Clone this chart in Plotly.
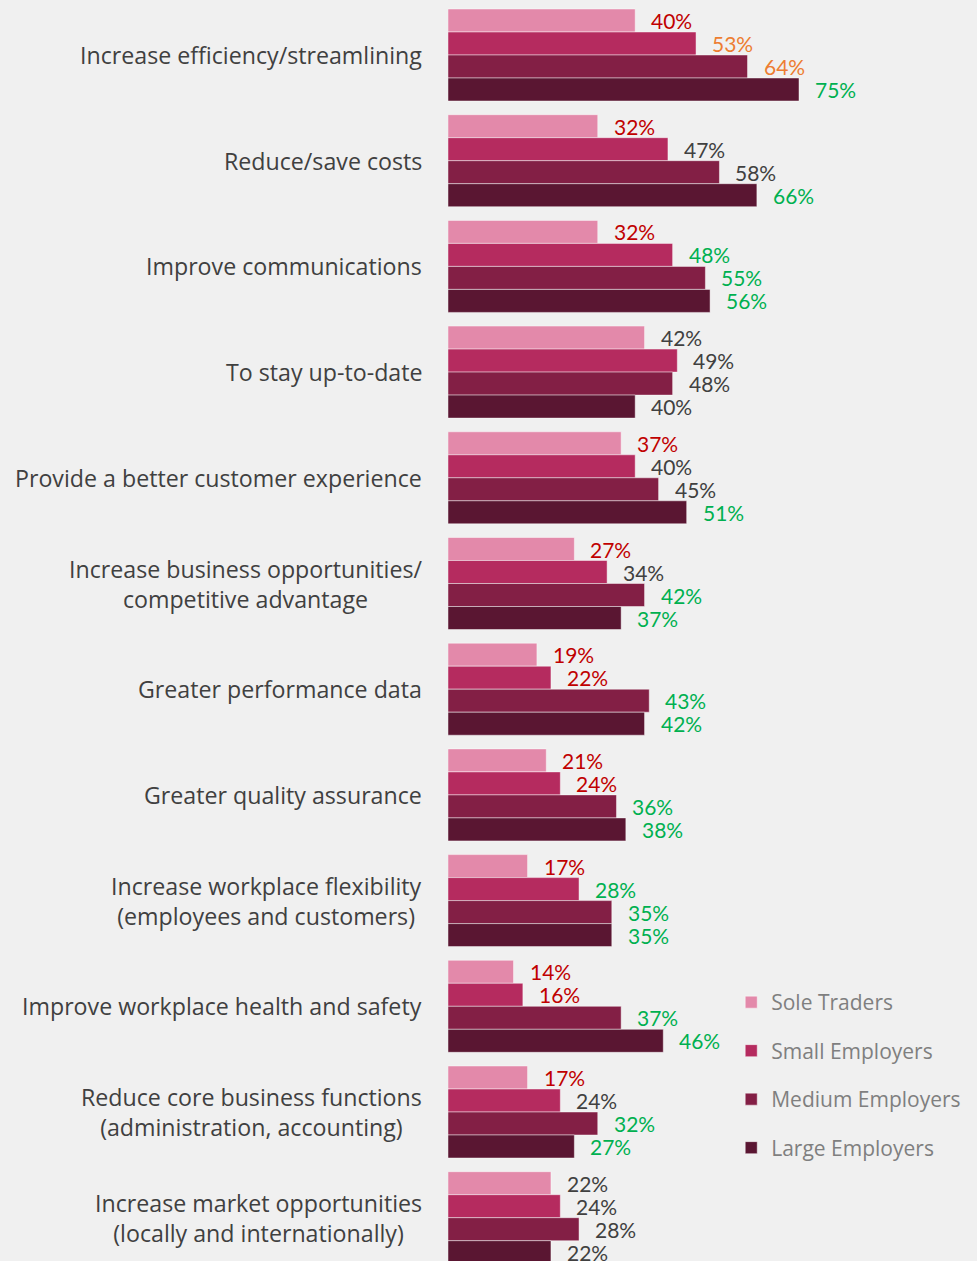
import plotly.graph_objects as go

categories = [
    "Increase efficiency/streamlining",
    "Reduce/save costs",
    "Improve communications",
    "To stay up-to-date",
    "Provide a better customer experience",
    "Increase business opportunities/<br>competitive advantage",
    "Greater performance data",
    "Greater quality assurance",
    "Increase workplace flexibility<br>(employees and customers)",
    "Improve workplace health and safety",
    "Reduce core business functions<br>(administration, accounting)",
    "Increase market opportunities<br>(locally and internationally)",
]

series_names = ["Sole Traders", "Small Employers", "Medium Employers", "Large Employers"]

sole_traders = [40, 32, 32, 42, 37, 27, 19, 21, 17, 14, 17, 22]
small_employers = [53, 47, 48, 49, 40, 34, 22, 24, 28, 16, 24, 24]
medium_employers = [64, 58, 55, 48, 45, 42, 43, 36, 35, 37, 32, 28]
large_employers = [75, 66, 56, 40, 51, 37, 42, 38, 35, 46, 27, 22]

# significance flag per value: r = below average, o = moderate, g = above average, k = neutral
sole_flags = ["r", "r", "r", "k", "r", "r", "r", "r", "r", "r", "r", "k"]
small_flags = ["o", "k", "g", "k", "k", "k", "r", "r", "g", "r", "k", "k"]
medium_flags = ["o", "k", "g", "k", "k", "g", "g", "g", "g", "g", "g", "k"]
large_flags = ["g", "g", "g", "k", "g", "g", "g", "g", "g", "g", "g", "k"]

series_values = [sole_traders, small_employers, medium_employers, large_employers]
series_flags = [sole_flags, small_flags, medium_flags, large_flags]

bar_colors = ["#E389AA", "#B52B5F", "#831F45", "#5A1632"]
flag_colors = {"r": "#C00000", "o": "#ED7D31", "g": "#00B050", "k": "#404040"}

W, H = 977, 1261
LEFT = 448
PX_PER_PCT = 4.68
PITCH = 105.7
FIRST_CENTER = 55
BAR_H = 23

fig = go.Figure()
for name, vals, col in zip(series_names, series_values, bar_colors):
    fig.add_trace(go.Bar(
        y=categories, x=vals, name=name, orientation="h",
        marker=dict(color=col, line=dict(color="rgba(255,255,255,0.45)", width=1)),
        legendgroup=name, hoverinfo="x+name",
    ))

annotations = []
for i, (vals, flags) in enumerate(zip(series_values, series_flags)):
    for cat, v, f in zip(categories, vals, flags):
        annotations.append(dict(
            x=v, y=cat, xref="x", yref="y", text=f"{v}%", showarrow=False,
            xanchor="left", yanchor="middle", xshift=14,
            yshift=-(i - 1.5) * BAR_H,
            font=dict(family="Lato", size=21, color=flag_colors[f]),
        ))

for cat in categories:
    annotations.append(dict(
        x=0, y=cat, xref="paper", yref="y", text=cat, showarrow=False,
        xanchor="right", yanchor="middle", align="center", xshift=-24,
        font=dict(family="Open Sans", size=23.2, color="#404040"),
    ))

top_val = -FIRST_CENTER / PITCH
bottom_val = top_val + H / PITCH

fig.update_layout(
    width=W, height=H,
    margin=dict(l=LEFT, r=0, t=0, b=0),
    paper_bgcolor="#F0F0F0", plot_bgcolor="#F0F0F0",
    barmode="group", bargap=13.7 / PITCH, bargroupgap=0,
    xaxis=dict(range=[0, (W - LEFT) / PX_PER_PCT], visible=False, fixedrange=True),
    yaxis=dict(range=[bottom_val, top_val], visible=False, fixedrange=True),
    annotations=annotations,
    showlegend=True,
    legend=dict(
        x=0.5354, y=1 - 982 / H, xanchor="left", yanchor="top",
        font=dict(family="Open Sans", size=21, color="#7F7F7F"),
        tracegroupgap=18.2, bgcolor="rgba(0,0,0,0)",
    ),
)

fig.write_html("out.html")
